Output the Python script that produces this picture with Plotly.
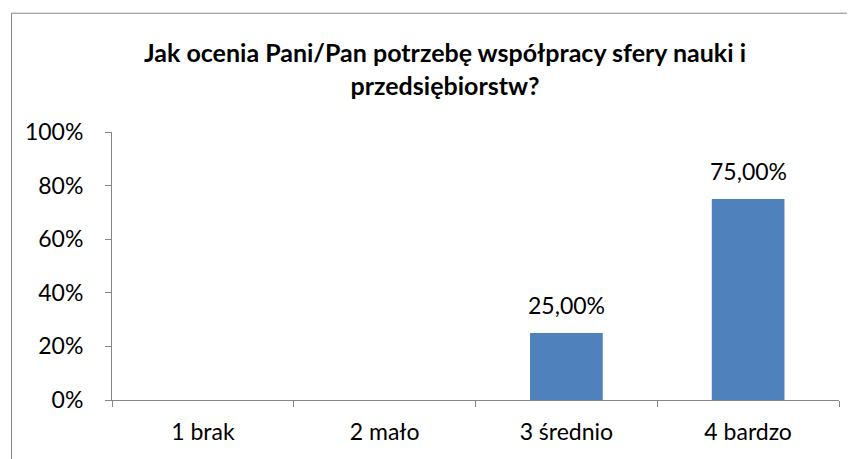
import plotly.graph_objects as go

categories = ["1 brak", "2 mało", "3 średnio", "4 bardzo"]
values = [0.0, 0.0, 0.25, 0.75]
labels = ["", "", "25,00%", "75,00%"]
y_ticks = [0, 0.2, 0.4, 0.6, 0.8, 1.0]
y_tick_text = ["0%", "20%", "40%", "60%", "80%", "100%"]
title_text = "<b>Jak ocenia Pani/Pan potrzebę współpracy sfery nauki i<br>przedsiębiorstw?</b>"

FONT = "Lato, 'Open Sans', sans-serif"
GRAY = "#868686"

# page offset (browser body margin)
OFF = 8
W, H = 855, 459
plot_left, plot_right, plot_top, plot_bottom = 112, 839, 131.5, 400
ml = plot_left - OFF
mr = W - (plot_right - OFF)
mt = plot_top - OFF
mb = H - (plot_bottom - OFF)
pw = plot_right - plot_left
ph = plot_bottom - plot_top

def px_to_paper_x(px):
    return (px - plot_left) / pw

def px_to_paper_y(py):
    return (plot_bottom - py) / ph

fig = go.Figure(
    go.Bar(
        x=categories,
        y=values,
        marker=dict(color="#4F81BD", line=dict(width=0)),
        width=0.4,
        hoverinfo="x+y",
    )
)

for c, v, t in zip(categories, values, labels):
    if t:
        fig.add_annotation(
            x=c, y=v, xref="x", yref="y", text=t, showarrow=False,
            yanchor="bottom", yshift=12,
            font=dict(size=23, family=FONT, color="#000000"),
        )

fig.add_shape(
    type="rect", xref="paper", yref="paper",
    x0=px_to_paper_x(11.5), x1=px_to_paper_x(900),
    y0=px_to_paper_y(520), y1=px_to_paper_y(12.5),
    line=dict(color=GRAY, width=1), fillcolor="rgba(0,0,0,0)", layer="below",
)

fig.update_layout(
    width=W, height=H,
    margin=dict(l=ml, r=mr, t=mt, b=mb, autoexpand=False),
    paper_bgcolor="white", plot_bgcolor="white",
    showlegend=False,
    font=dict(family=FONT, size=23, color="#000000"),
    title=dict(
        text=title_text,
        x=px_to_paper_x(445), xref="paper", xanchor="center",
        y=1 - (62 - OFF) / H, yanchor="middle",
        font=dict(size=25, family=FONT, color="#000000"),
    ),
)
fig.update_xaxes(
    showline=True, linecolor=GRAY, linewidth=1,
    ticks="outside", ticklen=6, tickcolor=GRAY, tickson="boundaries",
    showgrid=False, zeroline=False, automargin=False,
    tickfont=dict(size=23, family=FONT),
    ticklabelstandoff=11,
)
fig.update_yaxes(
    range=[0, 1], tickvals=y_ticks, ticktext=y_tick_text,
    showline=True, linecolor=GRAY, linewidth=1,
    ticks="outside", ticklen=6, tickcolor=GRAY,
    showgrid=False, zeroline=False, automargin=False,
    tickfont=dict(size=23, family=FONT),
    ticklabelstandoff=17,
)

fig.write_html("out.html")
